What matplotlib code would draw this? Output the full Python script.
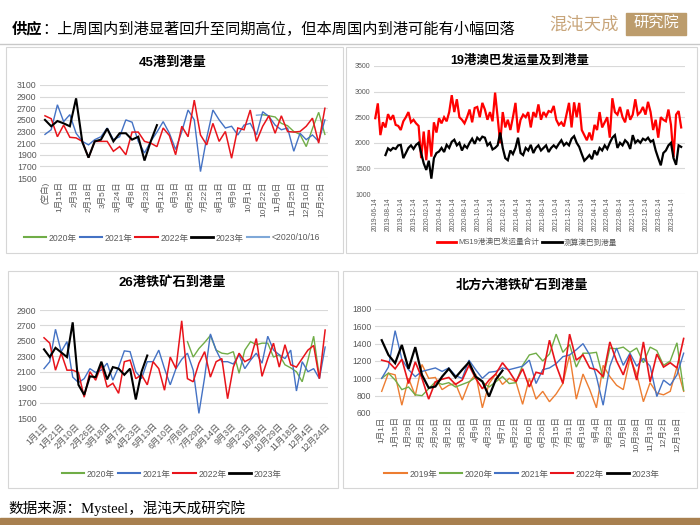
import numpy as np
import matplotlib.pyplot as plt
from matplotlib.patches import Rectangle
from matplotlib.lines import Line2D

plt.rcParams['font.family'] = ['Liberation Sans', 'Noto Sans CJK SC']

nan = np.nan

# ---------------- 45港到港量 ----------------
tl_labels = ["(空白)", "1月15日", "2月3日", "2月18日", "3月5日", "3月24日", "4月8日",
             "4月23日", "5月12日", "6月3日", "6月25日", "7月22日", "8月13日", "9月9日",
             "10月1日", "10月22日", "11月6日", "11月25日", "12月10日", "12月25日"]
tl_2020 = [nan] * 35 + [2590, 2570, 2550, 2440, 2400, 2300, 2250, 2040, 2350, 2630, 2250]
tl_2021 = [2250, 2330, 2760, 2470, 2590, 2270, 2130, 2070, 2160, 2210, 2360, 2160, 2210, 2500,
           2460, 2130, 1930, 2130, 2290, 2470, 2270, 1990, 2300, 2670, 2500, 1610, 2190, 2670,
           2500, 2360, 2390, 2240, 2410, 2440, 2240, 2640, 2560, 2410, 2330, 2360, 1960, 2270,
           2160, 2240, 2130, 2500]
tl_2022 = [2570, 2520, 2210, 2410, 2200, 2190, 2130, 1850, 2130, 2130, 2130, 1960, 2040, 1900,
           2290, 2290, 2130, 2100, 2040, 2360, 2230, 1900, 2390, 2210, 2840, 2240, 2070, 2440,
           2130, 2300, 1840, 2360, 2330, 2670, 2130, 2390, 2570, 2270, 2570, 2300, 2290, 2300,
           2390, 2530, 2100, 2700]
tl_2023 = [2500, 2390, 2480, 2440, 2390, 2870, 2120, 1850, 2130, 2160, 2350, 2130, 2270, 2270,
           2160, 2210, 1800, 2130, 2410]
tl_pre = [nan] * 34 + [2580, 2590]

# ---------------- 19港澳巴发运量及到港量 ----------------
tr_labels = ["2019-06-14", "2019-08-14", "2019-10-14", "2019-12-14",
             "2020-02-14", "2020-04-14", "2020-06-14", "2020-08-14", "2020-10-14", "2020-12-14",
             "2021-02-14", "2021-04-14", "2021-06-14", "2021-08-14", "2021-10-14", "2021-12-14",
             "2022-02-14", "2022-04-14", "2022-06-14", "2022-08-14", "2022-10-14", "2022-12-14",
             "2023-02-14", "2023-04-14"]
tr_ship = [2480, 2770, 2150, 2400, 2300, 2560, 2450, 2540, 2350, 2330,
           2250, 2420, 2500, 2600, 2400, 2450, 2380, 2330, 1700, 2220,
           1660, 2250, 1730, 2400, 2200, 2480, 2380, 2500, 2420, 2600,
           2930, 2600, 2850, 2500, 2450, 2380, 2500, 2650, 2400, 2680,
           2700, 2500, 2780, 2650, 2450, 2600, 2420, 2980, 2500, 1990,
           2600, 2300, 2450, 2250, 2500, 2780, 2200, 2450, 2550, 2500,
           2600, 2300, 2600, 2500, 2750, 2450, 2600, 2520, 2620, 2600,
           2720, 2450, 2350, 2400, 2320, 2550, 2780, 2300, 2790, 2500,
           2780, 2250, 2150, 2050, 2200, 2050, 2350, 2250, 2600, 2300,
           2400, 2500, 2100, 2870, 2600, 2550, 2700, 2500, 2400, 2650,
           2450, 2550, 2850, 2550, 2600, 2700, 2550, 2800, 2600, 2250,
           2450, 2100, 2500, 2450, 2420, 2650, 2350, 1720, 2550, 2620,
           2300]
tr_arrive = [nan] * 4 + [
    1760, 1890, 1850, 1900, 1880, 1950, 1960, 1700, 1800, 1900,
    1950, 1880, 1960, 2000, 1800, 1600, 1470, 1650, 1300, 1700,
    1800, 1830, 1900, 1820, 1960, 1900, 2020, 2060, 1950, 2000,
    1850, 1950, 1900, 2000, 2080, 1980, 2100, 2050, 2120, 2100,
    1950, 2000, 1870, 1900, 1950, 2200, 1900, 1700, 1660, 1850,
    1780, 1900, 2100, 1800, 1760, 1900, 1850, 1960, 1800, 1900,
    1950, 1850, 1900, 1950, 1820, 1900, 1950, 1900, 1980, 2050,
    1950, 2000, 1950, 2080, 2130, 2000, 1920, 1780, 1650, 1700,
    1760, 1680, 1850, 1760, 1900, 1850, 1950, 1880, 2000, 2100,
    2150, 1900, 2000, 1950, 2050, 2000, 1880, 2150, 2000, 2050,
    2000, 2080, 2050, 2100, 2020, 2050, 1850, 1700, 1560, 1800,
    1850, 1950, 2000, 1700, 1570, 1950, 1920]

# ---------------- 26港铁矿石到港量 ----------------
bl_labels = ["1月1日", "1月21日", "2月10日", "2月26日", "3月18日", "4月7日", "4月23日",
             "5月13日", "6月10日", "7月8日", "7月29日", "8月14日", "9月3日", "9月23日",
             "10月9日", "10月29日", "11月18日", "12月4日", "12月24日"]
bl_2020 = [nan] * 25 + [2490, 2290, 2400, 2480, 2570, 2380, 2340, 2330, 2360, 2080, 2380, 2490,
                        2450, 2470, 2470, 2290, 2320, 2190, 2150, 2100, 1970, 2250, 2560, 2030]
bl_2021 = [2140, 2230, 2650, 2360, 2490, 2030, 1960, 2010, 2140, 2090, 2120, 2210, 1990, 2160,
           2370, 2360, 2100, 2010, 2230, 2230, 2380, 2140, 1930, 2140, 2260, 2340, 2120, 1560,
           2030, 2590, 2380, 2230, 2230, 2200, 2320, 2140, 2250, 2340, 2210, 2560, 2380, 2320,
           2270, 2380, 1850, 2230, 2100, 2140, 2010, 2420]
bl_2022 = [2540, 2470, 2120, 2340, 2120, 2120, 2090, 1770, 2100, 1990, 2190, 1900, 1950, 1820,
           2230, 2250, 2010, 2060, 1930, 2230, 2140, 1860, 2290, 2140, 2760, 2010, 1970, 2210,
           2360, 2030, 2230, 2270, 1750, 2160, 2340, 2230, 2270, 2530, 2040, 2270, 2470, 2160,
           2450, 2190, 2160, 2270, 2380, 2440, 2010, 2640]
bl_2023 = [2390, 2290, 2410, 2350, 2290, 2740, 1930, 1800, 2040, 2030, 2230, 2000, 2160, 2140,
           2060, 2140, 1740, 2100, 2310]

# ---------------- 北方六港铁矿石到港量 ----------------
br_labels = ["1月1日", "1月15日", "1月29日", "2月12日", "2月26日", "3月12日", "3月26日", "4月9日",
             "4月23日", "5月7日", "5月22日", "6月10日", "6月26日", "7月15日", "7月31日", "8月19日",
             "9月4日", "9月23日", "10月9日", "10月28日", "11月13日", "12月2日", "12月18日"]
br_2019 = [850, 1060, 1040, 690, 1000, 800, 1160, 1000, 1010, 870, 920, 940, 750, 950, 1050, 660,
           940, 1050, 930, 1000, 960, 700, 1000, 760, 850, 730, 820, 940, 1270, 760, 1050, 870,
           660, 1150, 1020, 920, 870, 1230, 1050, 730, 950, 830, 810, 850, 1130, 850]
br_2020 = [1000, 1060, 980, 870, 900, 810, 800, 880, 960, 930, 950, 900, 930, 960, 1010, 960,
           900, 960, 1020, 940, 950, 1150, 1270, 1290, 1200, 1280, 1510, 1300, 1390, 1130, 1290,
           1290, 1300, 1000, 1350, 1340, 1360, 1300, 1350, 1180, 1360, 1320, 1150, 1200, 1410, 860]
br_2021 = [1000, 1130, 1550, 1220, 1100, 1020, 1080, 1100, 1120, 1080, 1120, 1030, 1000, 1210,
           1100, 1000, 1070, 1080, 1120, 1100, 1120, 1140, 1210, 940, 1100, 1120, 1170, 1250,
           1270, 1330, 1400, 1270, 1020, 690, 1140, 1350, 1150, 1290, 1140, 1230, 1140, 790,
           980, 920, 1040, 1290]
br_2022 = [1210, 1190, 1110, 1220, 940, 1190, 1000, 760, 960, 990, 1010, 930, 980, 1150, 1000,
           880, 980, 1050, 1180, 1080, 960, 1110, 900, 1070, 1050, 1440, 1150, 940, 1510, 1210,
           1270, 1120, 1100, 1020, 1420, 1200, 1040, 1270, 980, 1420, 960, 1280, 1130, 1180,
           1120, 1460]
br_2023 = [1440, 1270, 1175, 1385, 1110, 1360, 1040, 890, 905, 1020, 1110, 1010, 1100, 1185,
           1020, 965, 790, 985, 1090]

GREEN, BLUE, RED, BLACK, ORANGE, LIGHT = "#70AD47", "#4472C4", "#E8141B", "#000000", "#ED7D31", "#7FA8D8"
TICK = "#595959"
W, H = 700, 525


def rect(l, t, r, b):
    return [l / W, 1 - b / H, (r - l) / W, (b - t) / H]


def series(ax, vals, color, lw):
    y = np.array(vals, dtype=float)
    x = np.arange(len(y))
    ok = ~np.isnan(y)
    ax.plot(x[ok], y[ok], color=color, lw=lw, solid_joinstyle="miter")


def style(ax, yticks, size):
    for s in ax.spines.values():
        s.set_visible(False)
    ax.set_yticks(yticks)
    ax.set_ylim(yticks[0], yticks[-1])
    ax.yaxis.grid(True, color="#D9D9D9", lw=0.8)
    ax.set_axisbelow(True)
    ax.tick_params(length=0, labelsize=size, labelcolor=TICK, pad=2.5)


def legend(ax, items, cx, cy, size):
    handles = [Line2D([], [], color=c, lw=lw) for _, c, lw in items]
    ax.legend(handles, [n for n, _, _ in items], loc="center", ncol=len(items),
              bbox_to_anchor=(cx / W, 1 - cy / H), bbox_transform=fig.transFigure,
              frameon=False, fontsize=size, labelcolor=TICK, handlelength=2.6,
              handletextpad=0.3, columnspacing=0.3)


fig = plt.figure(figsize=(7, 5.25), dpi=100)

# panel frames
for l, t, r, b in [(6, 47, 343, 253), (346, 47, 697, 253), (8, 271, 338, 488), (343, 271, 697, 488)]:
    fig.add_artist(Rectangle((l / W, 1 - b / H), (r - l) / W, (b - t) / H, transform=fig.transFigure,
                             fill=False, ec="#D6D6D6", lw=0.8))

# header
fig.add_artist(Line2D([0, 1], [1 - 44 / H] * 2, transform=fig.transFigure, color="#C8C8C8", lw=1.0))
head_font = ["Liberation Serif", "Noto Sans CJK SC"]
t1 = fig.text(12 / W, 1 - 29 / H, "供应", fontsize=11, fontweight="bold", family=head_font, va="center")
fig.canvas.draw()
bb = t1.get_window_extent()
fig.text(bb.x1 / fig.bbox.width, 1 - 29 / H, "：上周国内到港显著回升至同期高位，但本周国内到港可能有小幅回落",
         fontsize=11, family=head_font, va="center")
fig.text(549 / W, 1 - 24 / H, "混沌天成", fontsize=12.5, color="#C8A57A", va="center", fontweight="light")
fig.add_artist(Rectangle((626 / W, 1 - 35 / H), 60 / W, 22 / H, transform=fig.transFigure,
                         color="#BC9C6C"))
fig.text(656 / W, 1 - 24 / H, "研究院", fontsize=11, color="white", va="center", ha="center")

# footer
fig.text(8 / W, 1 - 508 / H, "数据来源：Mysteel，混沌天成研究院", fontsize=10.5, family=head_font, va="center")
fig.add_artist(Rectangle((0, 0), 1, 7 / H, transform=fig.transFigure, color="#A8804F"))

# ---- top left
ax = fig.add_axes(rect(40, 85, 328, 178))
series(ax, tl_pre, LIGHT, 1.0)
series(ax, tl_2020, GREEN, 1.0)
series(ax, tl_2021, BLUE, 1.0)
series(ax, tl_2022, RED, 1.1)
series(ax, tl_2023, BLACK, 1.5)
style(ax, np.arange(1500, 3101, 200), 6.3)
ax.set_xlim(-0.8, 45.5)
ax.set_xticks(np.linspace(0, 44.4, len(tl_labels)))
ax.set_xticklabels(tl_labels, rotation=90, fontsize=6)
fig.text(173 / W, 1 - 63 / H, "45港到港量", fontsize=9.5, fontweight="bold", ha="center", va="center")
legend(ax, [("2020年", GREEN, 1.5), ("2021年", BLUE, 1.5), ("2022年", RED, 1.5),
            ("2023年", BLACK, 2.0), ("<2020/10/16", LIGHT, 1.5)], 172, 238, 6.2)

# ---- top right
ax = fig.add_axes(rect(374, 66, 685, 194))
series(ax, tr_ship, "#FF0000", 1.6)
series(ax, tr_arrive, BLACK, 1.6)
style(ax, np.arange(1000, 3501, 500), 5)
ax.set_xlim(-0.5, 121.5)
ax.set_xticks(np.linspace(0, 116.5, len(tr_labels)))
ax.set_xticklabels(tr_labels, rotation=90, fontsize=4.8)
fig.text(520 / W, 1 - 61 / H, "19港澳巴发运量及到港量", fontsize=9, fontweight="bold", ha="center", va="center")
legend(ax, [("MS19港澳巴发运量合计", "#FF0000", 2.0), ("测算澳巴到港量", BLACK, 2.0)], 527, 243, 5.5)

# ---- bottom left
ax = fig.add_axes(rect(40, 310, 328, 418))
series(ax, bl_2020, GREEN, 1.0)
series(ax, bl_2021, BLUE, 1.0)
series(ax, bl_2022, RED, 1.1)
series(ax, bl_2023, BLACK, 1.5)
style(ax, np.arange(1500, 2901, 200), 6.3)
ax.set_xlim(-0.7, 49.5)
ax.set_xticks(np.linspace(0, 49, len(bl_labels)))
ax.set_xticklabels(bl_labels, rotation=45, ha="right", rotation_mode="anchor", fontsize=6.2)
fig.text(172 / W, 1 - 283 / H, "26港铁矿石到港量", fontsize=9.5, fontweight="bold", ha="center", va="center")
legend(ax, [("2020年", GREEN, 1.5), ("2021年", BLUE, 1.5), ("2022年", RED, 1.5),
            ("2023年", BLACK, 2.0)], 172, 474, 6.2)

# ---- bottom right
ax = fig.add_axes(rect(375, 309, 685, 413))
series(ax, br_2019, ORANGE, 1.0)
series(ax, br_2020, GREEN, 1.0)
series(ax, br_2021, BLUE, 1.0)
series(ax, br_2022, RED, 1.2)
series(ax, br_2023, BLACK, 1.6)
style(ax, np.arange(600, 1801, 200), 6.2)
ax.set_xlim(-1, 45.2)
ax.set_xticks(np.arange(0, 45, 2))
ax.set_xticklabels(br_labels, rotation=90, fontsize=6)
fig.text(522 / W, 1 - 285 / H, "北方六港铁矿石到港量", fontsize=9.5, fontweight="bold", ha="center", va="center")
legend(ax, [("2019年", ORANGE, 1.5), ("2020年", GREEN, 1.5), ("2021年", BLUE, 1.5),
            ("2022年", RED, 1.5), ("2023年", BLACK, 2.0)], 522, 474, 6.2)

fig.savefig("out.png", dpi=100)
